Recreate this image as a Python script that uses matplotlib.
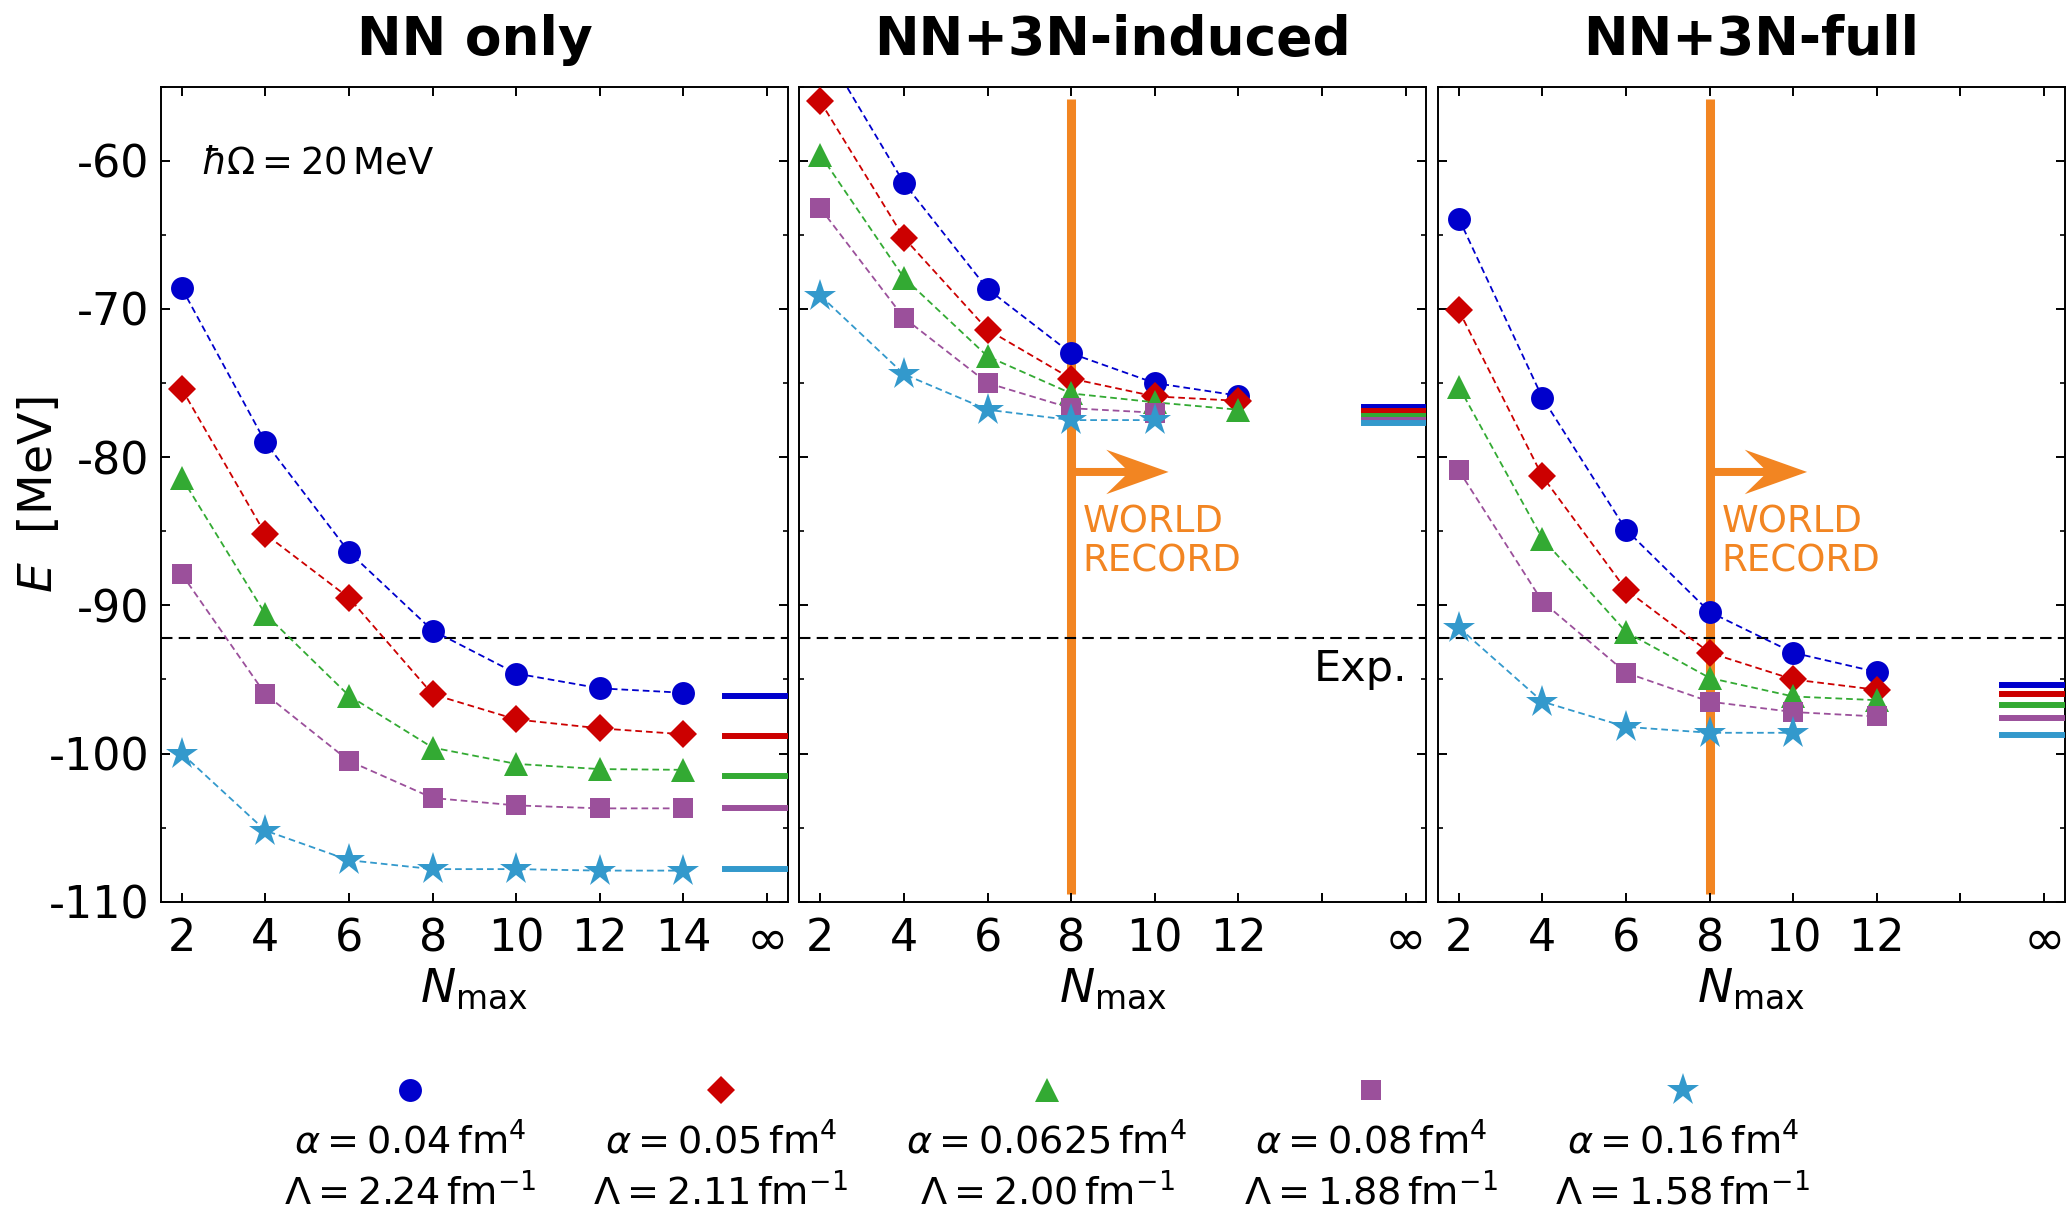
import numpy as np
import matplotlib
matplotlib.use('Agg')
import matplotlib.pyplot as plt
from matplotlib.ticker import MultipleLocator

plt.rcParams['font.family'] = 'DejaVu Sans'
plt.rcParams['mathtext.fontset'] = 'dejavusans'
plt.rcParams['axes.unicode_minus'] = False

# N_max values
nmax_nn = [2, 4, 6, 8, 10, 12, 14]
nmax_3n = [2, 4, 6, 8, 10, 12]

alpha_vals = ['0.04', '0.05', '0.0625', '0.08', '0.16']
lambda_vals = ['2.24', '2.11', '2.00', '1.88', '1.58']

titles = ['NN only', 'NN+3N-induced', 'NN+3N-full']

# ground-state energies [MeV], one list per SRG parameter
nn_only = [
    [-68.6, -79.0, -86.4, -91.7, -94.6, -95.6, -95.9],
    [-75.4, -85.2, -89.5, -96.0, -97.7, -98.3, -98.7],
    [-81.4, -90.6, -96.1, -99.6, -100.7, -101.05, -101.1],
    [-87.9, -96.0, -100.5, -103.0, -103.5, -103.7, -103.7],
    [-100.0, -105.2, -107.2, -107.8, -107.8, -107.9, -107.9],
]
nn_only_inf = [-96.1, -98.8, -101.5, -103.7, -107.8]

nn3n_induced = [
    [-52.0, -61.5, -68.65, -73.0, -75.0, -75.85],
    [-56.0, -65.2, -71.4, -74.7, -75.9, -76.2],
    [-59.6, -67.9, -73.2, -75.7, -76.3, -76.8],
    [-63.2, -70.6, -75.0, -76.7, -77.0],
    [-69.1, -74.4, -76.8, -77.5, -77.5],
]
nn3n_induced_inf = [-76.6, -76.9, -77.2, -77.5, -77.7]

nn3n_full = [
    [-63.9, -76.0, -84.9, -90.45, -93.2, -94.5],
    [-70.1, -81.3, -88.95, -93.2, -95.0, -95.7],
    [-75.25, -85.5, -91.8, -94.9, -96.15, -96.4],
    [-80.9, -89.75, -94.55, -96.5, -97.2, -97.5],
    [-91.5, -96.5, -98.2, -98.6, -98.6],
]
nn3n_full_inf = [-95.4, -96.0, -96.7, -97.6, -98.75]

exp_energy = -92.2

colors = ['#0000CC', '#CC0000', '#33AA33', '#9B509B', '#3399CC']
markers = ['o', 'D', '^', 's', '*']
msizes = [16.5, 14.5, 17.5, 14.4, 24.5]
orange = '#F28522'

fig, axes = plt.subplots(1, 3, figsize=(20.71, 12.12), dpi=100, sharey=True)
fig.subplots_adjust(left=0.0777, right=0.9971, top=0.9285, bottom=0.2560,
                    wspace=0.0183)

panels = [(nmax_nn, nn_only, nn_only_inf),
          (nmax_3n, nn3n_induced, nn3n_induced_inf),
          (nmax_3n, nn3n_full, nn3n_full_inf)]

for k, ax in enumerate(axes):
    nmax, data, inf = panels[k]
    for i in range(5):
        y = data[i]
        ax.plot(nmax[:len(y)], y, ls=(0, (3.7, 2.2)), lw=1.3, color=colors[i],
                marker=markers[i], ms=msizes[i], mew=0, zorder=3)
        ax.plot([15, 16.5], [inf[i], inf[i]], color=colors[i], lw=4.3,
                solid_capstyle='projecting', zorder=3)
    ax.axhline(exp_energy, color='k', ls=(0, (5.5, 3)), lw=1.5, zorder=2)

    ax.set_xlim(1.5, 16.5)
    ax.set_ylim(-110, -55)
    ax.set_xticks([2, 4, 6, 8, 10, 12, 14, 16])
    if k == 0:
        ax.set_xticklabels(['2', '4', '6', '8', '10', '12', '14', '∞'])
    else:
        ax.set_xticklabels(['2', '4', '6', '8', '10', '12', '', '∞'])
    ax.set_yticks(np.arange(-110, -55, 10))
    ax.yaxis.set_minor_locator(MultipleLocator(5))
    ax.tick_params(which='both', direction='in', top=True, right=True,
                   labelsize=32, pad=8)
    ax.tick_params(axis='x', which='both', pad=11)
    ax.get_xticklabels()[-1].set_fontsize(36)
    ax.tick_params(which='major', length=6.5, width=1.4)
    ax.tick_params(which='minor', length=3.4, width=1.2)
    for s in ax.spines.values():
        s.set_linewidth(1.4)
    ax.set_title(titles[k], fontsize=38.5, fontweight='bold', pad=23)
    ax.set_xlabel(r'$N_{\mathrm{max}}$', fontsize=34, labelpad=1)

    if k > 0:
        ax.plot([8, 8], [-109.5, -55.8], color=orange, lw=6.5,
                solid_capstyle='butt', zorder=1.5)
        ax.arrow(8, -81.0, 2.33, 0, width=0.54, head_width=3.0,
                 head_length=1.49, overhang=0.3, length_includes_head=True,
                 color=orange, lw=0, zorder=1.5)
        ax.text(8.28, -83.1, 'WORLD\nRECORD', color=orange, fontsize=26.7,
                ha='left', va='top', linespacing=1.1)

axes[0].set_ylabel(r'$E$  [MeV]', fontsize=34)
axes[0].yaxis.set_label_coords(-0.158, 0.5)
axes[0].text(2.45, -60.88, r'$\hbar\Omega = 20\,\mathrm{MeV}$', fontsize=26.6,
             ha='left', va='baseline')
axes[1].text(16.05, -94.3, 'Exp.', fontsize=31, ha='right', va='center')

# legend row below the panels
leg_x = [0.198, 0.348, 0.5055, 0.662, 0.8125]
leg = fig.add_axes([0, 0, 1, 0.2])
leg.set_axis_off()
leg.set_xlim(0, 1)
leg.set_ylim(0, 0.2)
for i in range(5):
    leg.plot(leg_x[i], 0.1007, marker=markers[i], ms=msizes[i], mew=0,
             color=colors[i], ls='none')
    leg.text(leg_x[i], 0.0487, r'$\alpha = %s\,\mathrm{fm}^4$' % alpha_vals[i],
             fontsize=27.5, ha='center', va='baseline')
    leg.text(leg_x[i], 0.0061, r'$\Lambda = %s\,\mathrm{fm}^{-1}$' % lambda_vals[i],
             fontsize=27.5, ha='center', va='baseline')

fig.savefig('out.png', dpi=100)
